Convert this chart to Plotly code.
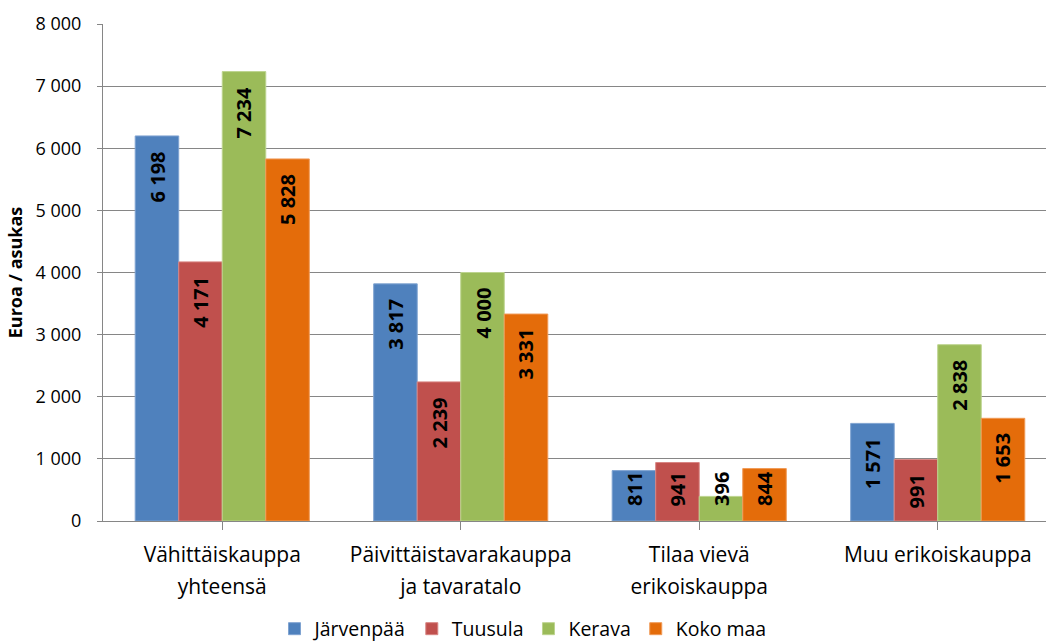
import plotly.graph_objects as go

# Retail sales per inhabitant by sector and area
categories = [
    "Vähittäiskauppa|yhteensä",
    "Päivittäistavarakauppa|ja tavaratalo",
    "Tilaa vievä|erikoiskauppa",
    "Muu erikoiskauppa",
]
series_names = ["Järvenpää", "Tuusula", "Kerava", "Koko maa"]
jarvenpaa = [6198, 3817, 811, 1571]
tuusula = [4171, 2239, 941, 991]
kerava = [7234, 4000, 396, 2838]
koko_maa = [5828, 3331, 844, 1653]
y_tick_values = [0, 1000, 2000, 3000, 4000, 5000, 6000, 7000, 8000]
y_tick_labels = ["0", "1 000", "2 000", "3 000", "4 000", "5 000", "6 000", "7 000", "8 000"]

series_values = [jarvenpaa, tuusula, kerava, koko_maa]
colors = ["#4F81BD", "#C0504D", "#9BBB59", "#E46C0A"]
edge_colors = ["#7FA3D1", "#D88583", "#BDD48F", "#F09A57"]

FONT = "Open Sans"
BAR_GAP = 0.27
Y_MAX = 8000
MARGIN = dict(l=103, r=0, t=24, b=123)
FIG_H = 644
plot_h = FIG_H - MARGIN["t"] - MARGIN["b"]
px_per_unit = plot_h / Y_MAX
LABEL_SIZE = 20
LABEL_PAD = 13
CAT_SIZE = 21


def fmt(v):
    return f"{v:,}".replace(",", " ")


tick_text = [
    "<br>".join(f'<span style="font-size:{CAT_SIZE}px">{part}</span>' for part in c.split("|"))
    for c in categories
]
x_idx = list(range(len(categories)))

fig = go.Figure()
for name, vals, col, edge in zip(series_names, series_values, colors, edge_colors):
    fig.add_trace(go.Bar(
        name=name, x=x_idx, y=vals,
        marker=dict(color=col, line=dict(color=edge, width=1)),
    ))

# Rotated value labels just inside the top of each bar
n = len(series_names)
w = (1 - BAR_GAP) / n
annotations = []
for i, vals in enumerate(series_values):
    for j, v in enumerate(vals):
        text = fmt(v)
        text_len = 0.56 * LABEL_SIZE * len(text)
        bar_px = v * px_per_unit
        x = j + (i - (n - 1) / 2) * w
        if bar_px >= 2 * LABEL_PAD + text_len:
            y, anchor, shift = v, "top", -LABEL_PAD
        else:
            y, anchor, shift = 0, "bottom", LABEL_PAD
        annotations.append(dict(
            x=x, y=y, xref="x", yref="y", text=f"<b>{text}</b>",
            textangle=-90, showarrow=False, yanchor=anchor, xanchor="center",
            yshift=shift, font=dict(family=FONT, size=LABEL_SIZE, color="#000000"),
        ))

fig.update_layout(
    width=1046, height=FIG_H,
    margin=MARGIN,
    paper_bgcolor="white", plot_bgcolor="white",
    barmode="group", bargap=BAR_GAP, bargroupgap=0,
    font=dict(family=FONT, color="#000000"),
    annotations=annotations,
    showlegend=True,
    legend=dict(
        orientation="h", xref="container", yref="container",
        x=0.5, xanchor="center", y=15 / FIG_H, yanchor="middle",
        font=dict(family=FONT, size=19.5, color="#000000"),
        itemwidth=30, traceorder="normal",
    ),
    xaxis=dict(
        tickmode="array", tickvals=x_idx, ticktext=tick_text,
        range=[-0.5, 3.454], tickson="boundaries",
        ticks="outside", ticklen=8, tickcolor="#868686",
        showline=True, linecolor="#868686", linewidth=1,
        showgrid=False, zeroline=False,
        tickfont=dict(family=FONT, size=24.6, color="#000000"),
        ticklabelstandoff=2,
    ),
    yaxis=dict(
        range=[0, Y_MAX], tickmode="array",
        tickvals=y_tick_values, ticktext=y_tick_labels,
        ticks="outside", ticklen=5, tickcolor="#868686",
        showline=True, linecolor="#868686", linewidth=1,
        showgrid=True, gridcolor="#868686", gridwidth=1,
        zeroline=False,
        tickfont=dict(family=FONT, size=18, color="#000000"),
        ticklabelstandoff=12,
        title=dict(text="<b>Euroa / asukas</b>", font=dict(family=FONT, size=18, color="#000000"), standoff=8),
    ),
)

fig.write_html("out.html")
